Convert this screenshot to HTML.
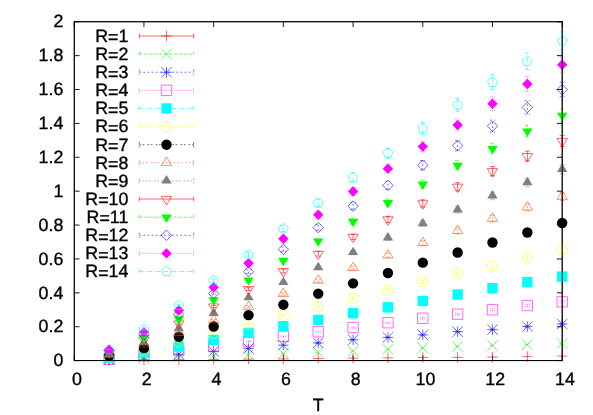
<!DOCTYPE html>
<html><head><meta charset="utf-8"><title>plot</title>
<style>html,body{margin:0;padding:0;background:#fff}svg{display:block;will-change:transform}</style></head>
<body>
<svg width="593" height="415" viewBox="0 0 593 415">
<rect width="593" height="415" fill="#fff"/>
<path d="M74.25 360.6h5.3M562.2 360.6h-5.3M74.25 326.72h5.3M562.2 326.72h-5.3M74.25 292.83h5.3M562.2 292.83h-5.3M74.25 258.94h5.3M562.2 258.94h-5.3M74.25 225.06h5.3M562.2 225.06h-5.3M74.25 191.18h5.3M562.2 191.18h-5.3M74.25 157.29h5.3M562.2 157.29h-5.3M74.25 123.4h5.3M562.2 123.4h-5.3M74.25 89.52h5.3M562.2 89.52h-5.3M74.25 55.63h5.3M562.2 55.63h-5.3M74.25 21.75h5.3M562.2 21.75h-5.3M74.25 360.6v-5.3M74.25 21.75v5.3M143.96 360.6v-5.3M143.96 21.75v5.3M213.66 360.6v-5.3M213.66 21.75v5.3M283.37 360.6v-5.3M283.37 21.75v5.3M353.08 360.6v-5.3M353.08 21.75v5.3M422.79 360.6v-5.3M422.79 21.75v5.3M492.49 360.6v-5.3M492.49 21.75v5.3M562.2 360.6v-5.3M562.2 21.75v5.3" fill="none" stroke="#000" stroke-width="0.9"/>
<rect x="74.25" y="21.75" width="487.95" height="338.85" fill="none" stroke="#000" stroke-width="0.9"/>
<g font-family="Liberation Sans, sans-serif" font-size="17.8" fill="#000" stroke="#000" stroke-width="0.35" text-rendering="geometricPrecision">
<text x="63.3" y="366.3" text-anchor="end">0</text>
<text x="63.3" y="332.42" text-anchor="end">0.2</text>
<text x="63.3" y="298.53" text-anchor="end">0.4</text>
<text x="63.3" y="264.64" text-anchor="end">0.6</text>
<text x="63.3" y="230.76" text-anchor="end">0.8</text>
<text x="63.3" y="196.88" text-anchor="end">1</text>
<text x="63.3" y="162.99" text-anchor="end">1.2</text>
<text x="63.3" y="129.1" text-anchor="end">1.4</text>
<text x="63.3" y="95.22" text-anchor="end">1.6</text>
<text x="63.3" y="61.33" text-anchor="end">1.8</text>
<text x="63.3" y="27.45" text-anchor="end">2</text>
<text x="76.95" y="384.5" text-anchor="middle">0</text>
<text x="146.66" y="384.5" text-anchor="middle">2</text>
<text x="216.36" y="384.5" text-anchor="middle">4</text>
<text x="286.07" y="384.5" text-anchor="middle">6</text>
<text x="355.78" y="384.5" text-anchor="middle">8</text>
<text x="425.49" y="384.5" text-anchor="middle">10</text>
<text x="495.19" y="384.5" text-anchor="middle">12</text>
<text x="564.9" y="384.5" text-anchor="middle">14</text>
<text x="318.3" y="411.4" text-anchor="middle">T</text>
<text x="128.3" y="41.9" text-anchor="end">R<tspan dy="1.4">=</tspan><tspan dy="-1.4">1</tspan></text>
<text x="128.3" y="60.01" text-anchor="end">R<tspan dy="1.4">=</tspan><tspan dy="-1.4">2</tspan></text>
<text x="128.3" y="78.13" text-anchor="end">R<tspan dy="1.4">=</tspan><tspan dy="-1.4">3</tspan></text>
<text x="128.3" y="96.25" text-anchor="end">R<tspan dy="1.4">=</tspan><tspan dy="-1.4">4</tspan></text>
<text x="128.3" y="114.36" text-anchor="end">R<tspan dy="1.4">=</tspan><tspan dy="-1.4">5</tspan></text>
<text x="128.3" y="132.47" text-anchor="end">R<tspan dy="1.4">=</tspan><tspan dy="-1.4">6</tspan></text>
<text x="128.3" y="150.59" text-anchor="end">R<tspan dy="1.4">=</tspan><tspan dy="-1.4">7</tspan></text>
<text x="128.3" y="168.71" text-anchor="end">R<tspan dy="1.4">=</tspan><tspan dy="-1.4">8</tspan></text>
<text x="128.3" y="186.82" text-anchor="end">R<tspan dy="1.4">=</tspan><tspan dy="-1.4">9</tspan></text>
<text x="128.3" y="204.94" text-anchor="end">R<tspan dy="1.4">=</tspan><tspan dy="-1.4">10</tspan></text>
<text x="128.3" y="223.05" text-anchor="end">R<tspan dy="1.4">=</tspan><tspan dy="-1.4">11</tspan></text>
<text x="128.3" y="241.16" text-anchor="end">R<tspan dy="1.4">=</tspan><tspan dy="-1.4">12</tspan></text>
<text x="128.3" y="259.28" text-anchor="end">R<tspan dy="1.4">=</tspan><tspan dy="-1.4">13</tspan></text>
<text x="128.3" y="277.39" text-anchor="end">R<tspan dy="1.4">=</tspan><tspan dy="-1.4">14</tspan></text>
</g>
<path d="M139.3 36H193.7M139.3 33.5V38.5M193.7 33.5V38.5" fill="none" stroke="#ff0000" stroke-width="0.6"/>
<path d="M166.5 30.8V41.2M161.3 36H171.7" fill="none" stroke="#ff0000" stroke-width="0.6"/>
<path d="" fill="none" stroke="#ff0000" stroke-width="0.6"/>
<path d="M109.1 355.23V365.63M103.9 360.43H114.3" fill="none" stroke="#ff0000" stroke-width="0.6"/>
<path d="M143.96 354.77V365.17M138.76 359.97H149.16" fill="none" stroke="#ff0000" stroke-width="0.6"/>
<path d="M178.81 354.47V364.87M173.61 359.67H184.01" fill="none" stroke="#ff0000" stroke-width="0.6"/>
<path d="M213.66 354.21V364.61M208.46 359.41H218.86" fill="none" stroke="#ff0000" stroke-width="0.6"/>
<path d="M248.52 353.88V364.28M243.32 359.08H253.72" fill="none" stroke="#ff0000" stroke-width="0.6"/>
<path d="M283.37 353.71V364.11M278.17 358.91H288.57" fill="none" stroke="#ff0000" stroke-width="0.6"/>
<path d="M318.23 353.37V363.77M313.03 358.57H323.43" fill="none" stroke="#ff0000" stroke-width="0.6"/>
<path d="M353.08 352.91V363.31M347.88 358.11H358.28" fill="none" stroke="#ff0000" stroke-width="0.6"/>
<path d="M387.93 352.69V363.09M382.73 357.89H393.13" fill="none" stroke="#ff0000" stroke-width="0.6"/>
<path d="M422.79 352.18V362.58M417.59 357.38H427.99" fill="none" stroke="#ff0000" stroke-width="0.6"/>
<path d="M457.64 352.18V362.58M452.44 357.38H462.84" fill="none" stroke="#ff0000" stroke-width="0.6"/>
<path d="M492.49 351.91V362.31M487.29 357.11H497.69" fill="none" stroke="#ff0000" stroke-width="0.6"/>
<path d="M527.35 351.4V361.8M522.15 356.6H532.55" fill="none" stroke="#ff0000" stroke-width="0.6"/>
<path d="M562.2 350.91V361.31M557 356.11H567.4" fill="none" stroke="#ff0000" stroke-width="0.6"/>
<path d="M139.3 54.11H193.7M139.3 51.61V56.61M193.7 51.61V56.61" fill="none" stroke="#00ff00" stroke-width="0.6" stroke-dasharray="3.29 1.65"/>
<path d="M161.3 48.91L171.7 59.31M161.3 59.31L171.7 48.91" fill="none" stroke="#00ff00" stroke-width="0.6"/>
<path d="M106.6 360.09H111.6M141.46 358.57H146.46M176.31 357.21H181.31M211.16 356.03H216.16M246.02 354.84H251.02M280.87 353.48H285.87M315.73 352.3H320.73M350.58 351.11H355.58M385.43 349.25H390.43M420.29 347.81H425.29M455.14 346.54H460.14M489.99 345.52H494.99M524.85 344.67H529.85M562.2 343.81V343.17M559.7 343.81H564.7M559.7 343.17H564.7" fill="none" stroke="#00ff00" stroke-width="0.6" stroke-dasharray="3.29 1.65"/>
<path d="M103.9 354.89L114.3 365.29M103.9 365.29L114.3 354.89" fill="none" stroke="#00ff00" stroke-width="0.6"/>
<path d="M138.76 353.37L149.16 363.77M138.76 363.77L149.16 353.37" fill="none" stroke="#00ff00" stroke-width="0.6"/>
<path d="M173.61 352.01L184.01 362.41M173.61 362.41L184.01 352.01" fill="none" stroke="#00ff00" stroke-width="0.6"/>
<path d="M208.46 350.83L218.86 361.23M208.46 361.23L218.86 350.83" fill="none" stroke="#00ff00" stroke-width="0.6"/>
<path d="M243.32 349.64L253.72 360.04M243.32 360.04L253.72 349.64" fill="none" stroke="#00ff00" stroke-width="0.6"/>
<path d="M278.17 348.28L288.57 358.68M278.17 358.68L288.57 348.28" fill="none" stroke="#00ff00" stroke-width="0.6"/>
<path d="M313.03 347.1L323.43 357.5M313.03 357.5L323.43 347.1" fill="none" stroke="#00ff00" stroke-width="0.6"/>
<path d="M347.88 345.91L358.28 356.31M347.88 356.31L358.28 345.91" fill="none" stroke="#00ff00" stroke-width="0.6"/>
<path d="M382.73 344.05L393.13 354.45M382.73 354.45L393.13 344.05" fill="none" stroke="#00ff00" stroke-width="0.6"/>
<path d="M417.59 342.61L427.99 353.01M417.59 353.01L427.99 342.61" fill="none" stroke="#00ff00" stroke-width="0.6"/>
<path d="M452.44 341.34L462.84 351.74M452.44 351.74L462.84 341.34" fill="none" stroke="#00ff00" stroke-width="0.6"/>
<path d="M487.29 340.32L497.69 350.72M487.29 350.72L497.69 340.32" fill="none" stroke="#00ff00" stroke-width="0.6"/>
<path d="M522.15 339.47L532.55 349.87M522.15 349.87L532.55 339.47" fill="none" stroke="#00ff00" stroke-width="0.6"/>
<path d="M557 338.29L567.4 348.69M557 348.69L567.4 338.29" fill="none" stroke="#00ff00" stroke-width="0.6"/>
<path d="M139.3 72.23H193.7M139.3 69.73V74.73M193.7 69.73V74.73" fill="none" stroke="#0000ff" stroke-width="0.6" stroke-dasharray="1.65 2.47"/>
<path d="M166.5 67.03V77.43M161.3 72.23H171.7M161.3 67.03L171.7 77.43M161.3 77.43L171.7 67.03" fill="none" stroke="#0000ff" stroke-width="0.6"/>
<path d="M106.6 359.75H111.6M141.46 356.87H146.46M176.31 354.25H181.31M211.16 351.45H216.16M246.02 348.5H251.02M280.87 345.18H285.87M318.23 343.31V342.65M315.73 343.31H320.73M315.73 342.65H320.73M353.08 340.15V339.37M350.58 340.15H355.58M350.58 339.37H355.58M387.93 337.82V336.95M385.43 337.82H390.43M385.43 336.95H390.43M422.79 335.33V334.36M420.29 335.33H425.29M420.29 334.36H425.29M457.64 332.18V331.08M455.14 332.18H460.14M455.14 331.08H460.14M492.49 330.18V329.01M489.99 330.18H494.99M489.99 329.01H494.99M527.35 327.2V325.89M524.85 327.2H529.85M524.85 325.89H529.85M562.2 324.71V323.3M559.7 324.71H564.7M559.7 323.3H564.7" fill="none" stroke="#0000ff" stroke-width="0.6" stroke-dasharray="1.65 2.47"/>
<path d="M109.1 354.55V364.95M103.9 359.75H114.3M103.9 354.55L114.3 364.95M103.9 364.95L114.3 354.55" fill="none" stroke="#0000ff" stroke-width="0.6"/>
<path d="M143.96 351.67V362.07M138.76 356.87H149.16M138.76 351.67L149.16 362.07M138.76 362.07L149.16 351.67" fill="none" stroke="#0000ff" stroke-width="0.6"/>
<path d="M178.81 349.05V359.45M173.61 354.25H184.01M173.61 349.05L184.01 359.45M173.61 359.45L184.01 349.05" fill="none" stroke="#0000ff" stroke-width="0.6"/>
<path d="M213.66 346.25V356.65M208.46 351.45H218.86M208.46 346.25L218.86 356.65M208.46 356.65L218.86 346.25" fill="none" stroke="#0000ff" stroke-width="0.6"/>
<path d="M248.52 343.3V353.7M243.32 348.5H253.72M243.32 343.3L253.72 353.7M243.32 353.7L253.72 343.3" fill="none" stroke="#0000ff" stroke-width="0.6"/>
<path d="M283.37 339.98V350.38M278.17 345.18H288.57M278.17 339.98L288.57 350.38M278.17 350.38L288.57 339.98" fill="none" stroke="#0000ff" stroke-width="0.6"/>
<path d="M318.23 337.78V348.18M313.03 342.98H323.43M313.03 337.78L323.43 348.18M313.03 348.18L323.43 337.78" fill="none" stroke="#0000ff" stroke-width="0.6"/>
<path d="M353.08 334.56V344.96M347.88 339.76H358.28M347.88 334.56L358.28 344.96M347.88 344.96L358.28 334.56" fill="none" stroke="#0000ff" stroke-width="0.6"/>
<path d="M387.93 332.19V342.59M382.73 337.39H393.13M382.73 332.19L393.13 342.59M382.73 342.59L393.13 332.19" fill="none" stroke="#0000ff" stroke-width="0.6"/>
<path d="M422.79 329.65V340.05M417.59 334.85H427.99M417.59 329.65L427.99 340.05M417.59 340.05L427.99 329.65" fill="none" stroke="#0000ff" stroke-width="0.6"/>
<path d="M457.64 326.43V336.83M452.44 331.63H462.84M452.44 326.43L462.84 336.83M452.44 336.83L462.84 326.43" fill="none" stroke="#0000ff" stroke-width="0.6"/>
<path d="M492.49 324.4V334.8M487.29 329.6H497.69M487.29 324.4L497.69 334.8M487.29 334.8L497.69 324.4" fill="none" stroke="#0000ff" stroke-width="0.6"/>
<path d="M527.35 321.35V331.75M522.15 326.55H532.55M522.15 321.35L532.55 331.75M522.15 331.75L532.55 321.35" fill="none" stroke="#0000ff" stroke-width="0.6"/>
<path d="M562.2 318.8V329.2M557 324H567.4M557 318.8L567.4 329.2M557 329.2L567.4 318.8" fill="none" stroke="#0000ff" stroke-width="0.6"/>
<path d="M139.3 90.34H193.7M139.3 87.84V92.84M193.7 87.84V92.84" fill="none" stroke="#ff00ff" stroke-width="0.6" stroke-dasharray="0.82 1.24"/>
<path d="M161.3 85.14L171.7 85.14L171.7 95.55L161.3 95.55Z" fill="none" stroke="#ff00ff" stroke-width="0.6"/><circle cx="166.5" cy="90.34" r="0.22" fill="#ff00ff"/>
<path d="M106.6 359.24H111.6M141.46 354.84H146.46M176.31 350.5H181.31M211.16 345.86H216.16M248.52 341.98V341.27M246.02 341.98H251.02M246.02 341.27H251.02M283.37 336.83V335.92M280.87 336.83H285.87M280.87 335.92H285.87M318.23 332.18V331.08M315.73 332.18H320.73M315.73 331.08H320.73M353.08 328.19V326.93M350.58 328.19H355.58M350.58 326.93H355.58M387.93 323.45V321.99M385.43 323.45H390.43M385.43 321.99H390.43M422.79 319.06V317.42M420.29 319.06H425.29M420.29 317.42H425.29M457.64 315.08V313.27M455.14 315.08H460.14M455.14 313.27H460.14M492.49 310.77V308.77M489.99 310.77H494.99M489.99 308.77H494.99M527.35 306.63V304.45M524.85 306.63H529.85M524.85 304.45H529.85M562.2 302.98V300.64M559.7 302.98H564.7M559.7 300.64H564.7" fill="none" stroke="#ff00ff" stroke-width="0.6" stroke-dasharray="0.82 1.24"/>
<path d="M103.9 354.04L114.3 354.04L114.3 364.44L103.9 364.44Z" fill="none" stroke="#ff00ff" stroke-width="0.6"/><circle cx="109.1" cy="359.24" r="0.22" fill="#ff00ff"/>
<path d="M138.76 349.64L149.16 349.64L149.16 360.04L138.76 360.04Z" fill="none" stroke="#ff00ff" stroke-width="0.6"/><circle cx="143.96" cy="354.84" r="0.22" fill="#ff00ff"/>
<path d="M173.61 345.3L184.01 345.3L184.01 355.7L173.61 355.7Z" fill="none" stroke="#ff00ff" stroke-width="0.6"/><circle cx="178.81" cy="350.5" r="0.22" fill="#ff00ff"/>
<path d="M208.46 340.66L218.86 340.66L218.86 351.06L208.46 351.06Z" fill="none" stroke="#ff00ff" stroke-width="0.6"/><circle cx="213.66" cy="345.86" r="0.22" fill="#ff00ff"/>
<path d="M243.32 336.42L253.72 336.42L253.72 346.82L243.32 346.82Z" fill="none" stroke="#ff00ff" stroke-width="0.6"/><circle cx="248.52" cy="341.62" r="0.22" fill="#ff00ff"/>
<path d="M278.17 331.17L288.57 331.17L288.57 341.57L278.17 341.57Z" fill="none" stroke="#ff00ff" stroke-width="0.6"/><circle cx="283.37" cy="336.37" r="0.22" fill="#ff00ff"/>
<path d="M313.03 326.43L323.43 326.43L323.43 336.83L313.03 336.83Z" fill="none" stroke="#ff00ff" stroke-width="0.6"/><circle cx="318.23" cy="331.63" r="0.22" fill="#ff00ff"/>
<path d="M347.88 322.36L358.28 322.36L358.28 332.76L347.88 332.76Z" fill="none" stroke="#ff00ff" stroke-width="0.6"/><circle cx="353.08" cy="327.56" r="0.22" fill="#ff00ff"/>
<path d="M382.73 317.52L393.13 317.52L393.13 327.92L382.73 327.92Z" fill="none" stroke="#ff00ff" stroke-width="0.6"/><circle cx="387.93" cy="322.72" r="0.22" fill="#ff00ff"/>
<path d="M417.59 313.04L427.99 313.04L427.99 323.44L417.59 323.44Z" fill="none" stroke="#ff00ff" stroke-width="0.6"/><circle cx="422.79" cy="318.24" r="0.22" fill="#ff00ff"/>
<path d="M452.44 308.98L462.84 308.98L462.84 319.38L452.44 319.38Z" fill="none" stroke="#ff00ff" stroke-width="0.6"/><circle cx="457.64" cy="314.18" r="0.22" fill="#ff00ff"/>
<path d="M487.29 304.57L497.69 304.57L497.69 314.97L487.29 314.97Z" fill="none" stroke="#ff00ff" stroke-width="0.6"/><circle cx="492.49" cy="309.77" r="0.22" fill="#ff00ff"/>
<path d="M522.15 300.34L532.55 300.34L532.55 310.74L522.15 310.74Z" fill="none" stroke="#ff00ff" stroke-width="0.6"/><circle cx="527.35" cy="305.54" r="0.22" fill="#ff00ff"/>
<path d="M557 296.61L567.4 296.61L567.4 307.01L557 307.01Z" fill="none" stroke="#ff00ff" stroke-width="0.6"/><circle cx="562.2" cy="301.81" r="0.22" fill="#ff00ff"/>
<path d="M139.3 108.46H193.7M139.3 105.96V110.96M193.7 105.96V110.96" fill="none" stroke="#00ffff" stroke-width="0.6" stroke-dasharray="4.12 1.65 0.82 1.65"/>
<path d="M161.3 103.26L171.7 103.26L171.7 113.66L161.3 113.66Z" fill="#00ffff" stroke="none"/>
<path d="M106.6 357.79H111.6M141.46 352.72H146.46M176.31 346.54H181.31M213.66 340.32V339.54M211.16 340.32H216.16M211.16 339.54H216.16M248.52 333.51V332.46M246.02 333.51H251.02M246.02 332.46H251.02M283.37 326.86V325.55M280.87 326.86H285.87M280.87 325.55H285.87M318.23 320.72V319.15M315.73 320.72H320.73M315.73 319.15H320.73M353.08 314.09V312.23M350.58 314.09H355.58M350.58 312.23H355.58M387.93 308.45V306.35M385.43 308.45H390.43M385.43 306.35H390.43M422.79 302.15V299.77M420.29 302.15H425.29M420.29 299.77H425.29M457.64 295.86V293.19M455.14 295.86H460.14M455.14 293.19H460.14M492.49 289.73V286.78M489.99 289.73H494.99M489.99 286.78H494.99M527.35 283.77V280.54M524.85 283.77H529.85M524.85 280.54H529.85M562.2 278.31V274.82M559.7 278.31H564.7M559.7 274.82H564.7" fill="none" stroke="#00ffff" stroke-width="0.6" stroke-dasharray="4.12 1.65 0.82 1.65"/>
<path d="M103.9 352.59L114.3 352.59L114.3 362.99L103.9 362.99Z" fill="#00ffff" stroke="none"/>
<path d="M138.76 347.52L149.16 347.52L149.16 357.92L138.76 357.92Z" fill="#00ffff" stroke="none"/>
<path d="M173.61 341.34L184.01 341.34L184.01 351.74L173.61 351.74Z" fill="#00ffff" stroke="none"/>
<path d="M208.46 334.73L218.86 334.73L218.86 345.13L208.46 345.13Z" fill="#00ffff" stroke="none"/>
<path d="M243.32 327.78L253.72 327.78L253.72 338.18L243.32 338.18Z" fill="#00ffff" stroke="none"/>
<path d="M278.17 321.01L288.57 321.01L288.57 331.41L278.17 331.41Z" fill="#00ffff" stroke="none"/>
<path d="M313.03 314.74L323.43 314.74L323.43 325.14L313.03 325.14Z" fill="#00ffff" stroke="none"/>
<path d="M347.88 307.96L358.28 307.96L358.28 318.36L347.88 318.36Z" fill="#00ffff" stroke="none"/>
<path d="M382.73 302.2L393.13 302.2L393.13 312.6L382.73 312.6Z" fill="#00ffff" stroke="none"/>
<path d="M417.59 295.76L427.99 295.76L427.99 306.16L417.59 306.16Z" fill="#00ffff" stroke="none"/>
<path d="M452.44 289.32L462.84 289.32L462.84 299.72L452.44 299.72Z" fill="#00ffff" stroke="none"/>
<path d="M487.29 283.06L497.69 283.06L497.69 293.46L487.29 293.46Z" fill="#00ffff" stroke="none"/>
<path d="M522.15 276.96L532.55 276.96L532.55 287.36L522.15 287.36Z" fill="#00ffff" stroke="none"/>
<path d="M557 271.37L567.4 271.37L567.4 281.77L557 281.77Z" fill="#00ffff" stroke="none"/>
<path d="M139.3 126.57H193.7M139.3 124.07V129.07M193.7 124.07V129.07" fill="none" stroke="#ffff00" stroke-width="0.6" stroke-dasharray="3.29 2.47 0.82 2.47"/>
<circle cx="166.5" cy="126.57" r="5.2" fill="none" stroke="#ffff00" stroke-width="0.6"/><circle cx="166.5" cy="126.57" r="0.22" fill="#ffff00"/>
<path d="M106.6 356.87H111.6M141.46 350.1H146.46M178.81 342.31V341.62M176.31 342.31H181.31M176.31 341.62H181.31M213.66 333.84V332.81M211.16 333.84H216.16M211.16 332.81H216.16M248.52 324.62V323.22M246.02 324.62H251.02M246.02 323.22H251.02M283.37 316.08V314.31M280.87 316.08H285.87M280.87 314.31H285.87M318.23 307.95V305.83M315.73 307.95H320.73M315.73 305.83H320.73M353.08 299.33V296.83M350.58 299.33H355.58M350.58 296.83H355.58M387.93 291.55V288.69M385.43 291.55H390.43M385.43 288.69H390.43M422.79 283.6V280.37M420.29 283.6H425.29M420.29 280.37H425.29M457.64 275.66V272.05M455.14 275.66H460.14M455.14 272.05H460.14M492.49 267.89V263.9M489.99 267.89H494.99M489.99 263.9H494.99M527.35 260.12V255.74M524.85 260.12H529.85M524.85 255.74H529.85M562.2 252.35V247.58M559.7 252.35H564.7M559.7 247.58H564.7" fill="none" stroke="#ffff00" stroke-width="0.6" stroke-dasharray="3.29 2.47 0.82 2.47"/>
<circle cx="109.1" cy="356.87" r="5.2" fill="none" stroke="#ffff00" stroke-width="0.6"/><circle cx="109.1" cy="356.87" r="0.22" fill="#ffff00"/>
<circle cx="143.96" cy="350.1" r="5.2" fill="none" stroke="#ffff00" stroke-width="0.6"/><circle cx="143.96" cy="350.1" r="0.22" fill="#ffff00"/>
<circle cx="178.81" cy="341.96" r="5.2" fill="none" stroke="#ffff00" stroke-width="0.6"/><circle cx="178.81" cy="341.96" r="0.22" fill="#ffff00"/>
<circle cx="213.66" cy="333.32" r="5.2" fill="none" stroke="#ffff00" stroke-width="0.6"/><circle cx="213.66" cy="333.32" r="0.22" fill="#ffff00"/>
<circle cx="248.52" cy="323.92" r="5.2" fill="none" stroke="#ffff00" stroke-width="0.6"/><circle cx="248.52" cy="323.92" r="0.22" fill="#ffff00"/>
<circle cx="283.37" cy="315.19" r="5.2" fill="none" stroke="#ffff00" stroke-width="0.6"/><circle cx="283.37" cy="315.19" r="0.22" fill="#ffff00"/>
<circle cx="318.23" cy="306.89" r="5.2" fill="none" stroke="#ffff00" stroke-width="0.6"/><circle cx="318.23" cy="306.89" r="0.22" fill="#ffff00"/>
<circle cx="353.08" cy="298.08" r="5.2" fill="none" stroke="#ffff00" stroke-width="0.6"/><circle cx="353.08" cy="298.08" r="0.22" fill="#ffff00"/>
<circle cx="387.93" cy="290.12" r="5.2" fill="none" stroke="#ffff00" stroke-width="0.6"/><circle cx="387.93" cy="290.12" r="0.22" fill="#ffff00"/>
<circle cx="422.79" cy="281.99" r="5.2" fill="none" stroke="#ffff00" stroke-width="0.6"/><circle cx="422.79" cy="281.99" r="0.22" fill="#ffff00"/>
<circle cx="457.64" cy="273.85" r="5.2" fill="none" stroke="#ffff00" stroke-width="0.6"/><circle cx="457.64" cy="273.85" r="0.22" fill="#ffff00"/>
<circle cx="492.49" cy="265.89" r="5.2" fill="none" stroke="#ffff00" stroke-width="0.6"/><circle cx="492.49" cy="265.89" r="0.22" fill="#ffff00"/>
<circle cx="527.35" cy="257.93" r="5.2" fill="none" stroke="#ffff00" stroke-width="0.6"/><circle cx="527.35" cy="257.93" r="0.22" fill="#ffff00"/>
<circle cx="562.2" cy="249.97" r="5.2" fill="none" stroke="#ffff00" stroke-width="0.6"/><circle cx="562.2" cy="249.97" r="0.22" fill="#ffff00"/>
<path d="M139.3 144.69H193.7M139.3 142.19V147.19M193.7 142.19V147.19" fill="none" stroke="#000000" stroke-width="0.6" stroke-dasharray="1.65 1.65 1.65 3.29"/>
<circle cx="166.5" cy="144.69" r="5.2" fill="#000000" stroke="none"/>
<path d="M106.6 355.86H111.6M141.46 348.01H146.46M178.81 337.16V336.26M176.31 337.16H181.31M176.31 336.26H181.31M213.66 327.2V325.89M211.16 327.2H216.16M211.16 325.89H216.16M248.52 316.01V314.24M246.02 316.01H251.02M246.02 314.24H251.02M283.37 305.8V303.58M280.87 305.8H285.87M280.87 303.58H285.87M318.23 295.03V292.33M315.73 295.03H320.73M315.73 292.33H320.73M353.08 284.93V281.76M350.58 284.93H355.58M350.58 281.76H355.58M387.93 274.83V271.18M385.43 274.83H390.43M385.43 271.18H390.43M422.79 264.75V260.6M420.29 264.75H425.29M420.29 260.6H425.29M457.64 254.83V250.18M455.14 254.83H460.14M455.14 250.18H460.14M492.49 245.09V239.93M489.99 245.09H494.99M489.99 239.93H494.99M527.35 235.35V229.68M524.85 235.35H529.85M524.85 229.68H529.85M562.2 226.12V219.94M559.7 226.12H564.7M559.7 219.94H564.7" fill="none" stroke="#000000" stroke-width="0.6" stroke-dasharray="1.65 1.65 1.65 3.29"/>
<circle cx="109.1" cy="355.86" r="5.2" fill="#000000" stroke="none"/>
<circle cx="143.96" cy="348.01" r="5.2" fill="#000000" stroke="none"/>
<circle cx="178.81" cy="336.71" r="5.2" fill="#000000" stroke="none"/>
<circle cx="213.66" cy="326.55" r="5.2" fill="#000000" stroke="none"/>
<circle cx="248.52" cy="315.13" r="5.2" fill="#000000" stroke="none"/>
<circle cx="283.37" cy="304.69" r="5.2" fill="#000000" stroke="none"/>
<circle cx="318.23" cy="293.68" r="5.2" fill="#000000" stroke="none"/>
<circle cx="353.08" cy="283.34" r="5.2" fill="#000000" stroke="none"/>
<circle cx="387.93" cy="273.01" r="5.2" fill="#000000" stroke="none"/>
<circle cx="422.79" cy="262.67" r="5.2" fill="#000000" stroke="none"/>
<circle cx="457.64" cy="252.51" r="5.2" fill="#000000" stroke="none"/>
<circle cx="492.49" cy="242.51" r="5.2" fill="#000000" stroke="none"/>
<circle cx="527.35" cy="232.51" r="5.2" fill="#000000" stroke="none"/>
<circle cx="562.2" cy="223.03" r="5.2" fill="#000000" stroke="none"/>
<path d="M139.3 162.81H193.7M139.3 160.31V165.31M193.7 160.31V165.31" fill="none" stroke="#ff4d00" stroke-width="0.6" stroke-dasharray="1.65 1.65 1.65 1.65 1.65 3.29"/>
<path d="M166.5 156.98L161.3 165.41L171.7 165.41Z" fill="none" stroke="#ff4d00" stroke-width="0.6"/><circle cx="166.5" cy="162.81" r="0.22" fill="#ff4d00"/>
<path d="M106.6 354.91H111.6M143.96 344.7V344.1M141.46 344.7H146.46M141.46 344.1H146.46M178.81 333.51V332.46M176.31 333.51H181.31M176.31 332.46H181.31M213.66 321.11V319.55M211.16 321.11H216.16M211.16 319.55H216.16M248.52 307.79V305.66M246.02 307.79H251.02M246.02 305.66H251.02M283.37 295.19V292.5M280.87 295.19H285.87M280.87 292.5H285.87M318.23 282.28V278.98M315.73 282.28H320.73M315.73 278.98H320.73M353.08 269.87V265.98M350.58 269.87H355.58M350.58 265.98H355.58M387.93 257.64V253.13M385.43 257.64H390.43M385.43 253.13H390.43M422.79 245.58V240.45M420.29 245.58H425.29M420.29 240.45H425.29M457.64 233.87V228.11M455.14 233.87H460.14M455.14 228.11H460.14M492.49 221.83V215.41M489.99 221.83H494.99M489.99 215.41H494.99M527.35 210.96V203.92M524.85 210.96H529.85M524.85 203.92H529.85M562.2 200.59V192.95M559.7 200.59H564.7M559.7 192.95H564.7" fill="none" stroke="#ff4d00" stroke-width="0.6" stroke-dasharray="1.65 1.65 1.65 1.65 1.65 3.29"/>
<path d="M109.1 349.08L103.9 357.51L114.3 357.51Z" fill="none" stroke="#ff4d00" stroke-width="0.6"/><circle cx="109.1" cy="354.91" r="0.22" fill="#ff4d00"/>
<path d="M143.96 338.58L138.76 347L149.16 347Z" fill="none" stroke="#ff4d00" stroke-width="0.6"/><circle cx="143.96" cy="344.4" r="0.22" fill="#ff4d00"/>
<path d="M178.81 327.16L173.61 335.58L184.01 335.58Z" fill="none" stroke="#ff4d00" stroke-width="0.6"/><circle cx="178.81" cy="332.98" r="0.22" fill="#ff4d00"/>
<path d="M213.66 314.5L208.46 322.93L218.86 322.93Z" fill="none" stroke="#ff4d00" stroke-width="0.6"/><circle cx="213.66" cy="320.33" r="0.22" fill="#ff4d00"/>
<path d="M248.52 300.9L243.32 309.32L253.72 309.32Z" fill="none" stroke="#ff4d00" stroke-width="0.6"/><circle cx="248.52" cy="306.72" r="0.22" fill="#ff4d00"/>
<path d="M283.37 288.02L278.17 296.45L288.57 296.45Z" fill="none" stroke="#ff4d00" stroke-width="0.6"/><circle cx="283.37" cy="293.85" r="0.22" fill="#ff4d00"/>
<path d="M318.23 274.81L313.03 283.23L323.43 283.23Z" fill="none" stroke="#ff4d00" stroke-width="0.6"/><circle cx="318.23" cy="280.63" r="0.22" fill="#ff4d00"/>
<path d="M353.08 262.1L347.88 270.52L358.28 270.52Z" fill="none" stroke="#ff4d00" stroke-width="0.6"/><circle cx="353.08" cy="267.92" r="0.22" fill="#ff4d00"/>
<path d="M387.93 249.56L382.73 257.99L393.13 257.99Z" fill="none" stroke="#ff4d00" stroke-width="0.6"/><circle cx="387.93" cy="255.39" r="0.22" fill="#ff4d00"/>
<path d="M422.79 237.2L417.59 245.62L427.99 245.62Z" fill="none" stroke="#ff4d00" stroke-width="0.6"/><circle cx="422.79" cy="243.02" r="0.22" fill="#ff4d00"/>
<path d="M457.64 225.17L452.44 233.59L462.84 233.59Z" fill="none" stroke="#ff4d00" stroke-width="0.6"/><circle cx="457.64" cy="230.99" r="0.22" fill="#ff4d00"/>
<path d="M492.49 212.8L487.29 221.22L497.69 221.22Z" fill="none" stroke="#ff4d00" stroke-width="0.6"/><circle cx="492.49" cy="218.62" r="0.22" fill="#ff4d00"/>
<path d="M527.35 201.62L522.15 210.04L532.55 210.04Z" fill="none" stroke="#ff4d00" stroke-width="0.6"/><circle cx="527.35" cy="207.44" r="0.22" fill="#ff4d00"/>
<path d="M562.2 190.94L557 199.37L567.4 199.37Z" fill="none" stroke="#ff4d00" stroke-width="0.6"/><circle cx="562.2" cy="196.77" r="0.22" fill="#ff4d00"/>
<path d="M139.3 180.92H193.7M139.3 178.42V183.42M193.7 178.42V183.42" fill="none" stroke="#808080" stroke-width="0.6" stroke-dasharray="1.65 1.65 1.65 1.65 1.65 1.65 1.65 3.29"/>
<path d="M166.5 175.1L161.3 183.52L171.7 183.52Z" fill="#808080" stroke="none"/>
<path d="M106.6 354.4H111.6M143.96 342.97V342.31M141.46 342.97H146.46M141.46 342.31H146.46M178.81 329.19V327.97M176.31 329.19H181.31M176.31 327.97H181.31M213.66 314.34V312.49M211.16 314.34H216.16M211.16 312.49H216.16M248.52 299V296.48M246.02 299H251.02M246.02 296.48H251.02M283.37 284.1V280.89M280.87 284.1H285.87M280.87 280.89H285.87M318.23 269.54V265.63M315.73 269.54H320.73M315.73 265.63H320.73M353.08 254.83V250.18M350.58 254.83H355.58M350.58 250.18H355.58M387.93 240.63V235.24M385.43 240.63H390.43M385.43 235.24H390.43M422.79 226.61V220.46M420.29 226.61H425.29M420.29 220.46H425.29M457.64 213.26V206.36M455.14 213.26H460.14M455.14 206.36H460.14M492.49 199.76V192.07M489.99 199.76H494.99M489.99 192.07H494.99M527.35 186.77V178.3M524.85 186.77H529.85M524.85 178.3H529.85M562.2 173.95V164.69M559.7 173.95H564.7M559.7 164.69H564.7" fill="none" stroke="#808080" stroke-width="0.6" stroke-dasharray="1.65 1.65 1.65 1.65 1.65 1.65 1.65 3.29"/>
<path d="M109.1 348.58L103.9 357L114.3 357Z" fill="#808080" stroke="none"/>
<path d="M143.96 336.82L138.76 345.24L149.16 345.24Z" fill="#808080" stroke="none"/>
<path d="M178.81 322.75L173.61 331.18L184.01 331.18Z" fill="#808080" stroke="none"/>
<path d="M213.66 307.59L208.46 316.02L218.86 316.02Z" fill="#808080" stroke="none"/>
<path d="M248.52 291.92L243.32 300.34L253.72 300.34Z" fill="#808080" stroke="none"/>
<path d="M283.37 276.67L278.17 285.1L288.57 285.1Z" fill="#808080" stroke="none"/>
<path d="M318.23 261.76L313.03 270.19L323.43 270.19Z" fill="#808080" stroke="none"/>
<path d="M353.08 246.68L347.88 255.11L358.28 255.11Z" fill="#808080" stroke="none"/>
<path d="M387.93 232.11L382.73 240.54L393.13 240.54Z" fill="#808080" stroke="none"/>
<path d="M422.79 217.71L417.59 226.14L427.99 226.14Z" fill="#808080" stroke="none"/>
<path d="M457.64 203.99L452.44 212.41L462.84 212.41Z" fill="#808080" stroke="none"/>
<path d="M492.49 190.09L487.29 198.52L497.69 198.52Z" fill="#808080" stroke="none"/>
<path d="M527.35 176.71L522.15 185.13L532.55 185.13Z" fill="#808080" stroke="none"/>
<path d="M562.2 163.5L557 171.92L567.4 171.92Z" fill="#808080" stroke="none"/>
<path d="M139.3 199.03H193.7M139.3 196.53V201.53M193.7 196.53V201.53" fill="none" stroke="#ff0000" stroke-width="0.6"/>
<path d="M166.5 204.86L161.3 196.44L171.7 196.44Z" fill="none" stroke="#ff0000" stroke-width="0.6"/><circle cx="166.5" cy="199.03" r="0.22" fill="#ff0000"/>
<path d="M106.6 352.98H111.6M143.96 340.15V339.37M141.46 340.15H146.46M141.46 339.37H146.46M178.81 324.29V322.87M176.31 324.29H181.31M176.31 322.87H181.31M213.66 307.62V305.49M211.16 307.62H216.16M211.16 305.49H216.16M248.52 290.56V287.65M246.02 290.56H251.02M246.02 287.65H251.02M283.37 273.01V269.27M280.87 273.01H285.87M280.87 269.27H285.87M318.23 256.15V251.57M315.73 256.15H320.73M315.73 251.57H320.73M353.08 239.64V234.2M350.58 239.64H355.58M350.58 234.2H355.58M387.93 222.66V216.28M385.43 222.66H390.43M385.43 216.28H390.43M422.79 207.01V199.74M420.29 207.01H425.29M420.29 199.74H425.29M457.64 190.88V182.66M455.14 190.88H460.14M455.14 182.66H460.14M492.49 175.76V166.61M489.99 175.76H494.99M489.99 166.61H494.99M527.35 161.14V151.07M524.85 161.14H529.85M524.85 151.07H529.85M562.2 146.54V135.51M559.7 146.54H564.7M559.7 135.51H564.7" fill="none" stroke="#ff0000" stroke-width="0.6"/>
<path d="M109.1 358.8L103.9 350.38L114.3 350.38Z" fill="none" stroke="#ff0000" stroke-width="0.6"/><circle cx="109.1" cy="352.98" r="0.22" fill="#ff0000"/>
<path d="M143.96 345.58L138.76 337.16L149.16 337.16Z" fill="none" stroke="#ff0000" stroke-width="0.6"/><circle cx="143.96" cy="339.76" r="0.22" fill="#ff0000"/>
<path d="M178.81 329.4L173.61 320.98L184.01 320.98Z" fill="none" stroke="#ff0000" stroke-width="0.6"/><circle cx="178.81" cy="323.58" r="0.22" fill="#ff0000"/>
<path d="M213.66 312.38L208.46 303.95L218.86 303.95Z" fill="none" stroke="#ff0000" stroke-width="0.6"/><circle cx="213.66" cy="306.55" r="0.22" fill="#ff0000"/>
<path d="M248.52 294.93L243.32 286.5L253.72 286.5Z" fill="none" stroke="#ff0000" stroke-width="0.6"/><circle cx="248.52" cy="289.1" r="0.22" fill="#ff0000"/>
<path d="M283.37 276.97L278.17 268.54L288.57 268.54Z" fill="none" stroke="#ff0000" stroke-width="0.6"/><circle cx="283.37" cy="271.14" r="0.22" fill="#ff0000"/>
<path d="M318.23 259.69L313.03 251.26L323.43 251.26Z" fill="none" stroke="#ff0000" stroke-width="0.6"/><circle cx="318.23" cy="253.86" r="0.22" fill="#ff0000"/>
<path d="M353.08 242.74L347.88 234.32L358.28 234.32Z" fill="none" stroke="#ff0000" stroke-width="0.6"/><circle cx="353.08" cy="236.92" r="0.22" fill="#ff0000"/>
<path d="M387.93 225.29L382.73 216.87L393.13 216.87Z" fill="none" stroke="#ff0000" stroke-width="0.6"/><circle cx="387.93" cy="219.47" r="0.22" fill="#ff0000"/>
<path d="M422.79 209.2L417.59 200.77L427.99 200.77Z" fill="none" stroke="#ff0000" stroke-width="0.6"/><circle cx="422.79" cy="203.37" r="0.22" fill="#ff0000"/>
<path d="M457.64 192.59L452.44 184.17L462.84 184.17Z" fill="none" stroke="#ff0000" stroke-width="0.6"/><circle cx="457.64" cy="186.77" r="0.22" fill="#ff0000"/>
<path d="M492.49 177.01L487.29 168.58L497.69 168.58Z" fill="none" stroke="#ff0000" stroke-width="0.6"/><circle cx="492.49" cy="171.18" r="0.22" fill="#ff0000"/>
<path d="M527.35 161.93L522.15 153.5L532.55 153.5Z" fill="none" stroke="#ff0000" stroke-width="0.6"/><circle cx="527.35" cy="156.1" r="0.22" fill="#ff0000"/>
<path d="M562.2 146.85L557 138.43L567.4 138.43Z" fill="none" stroke="#ff0000" stroke-width="0.6"/><circle cx="562.2" cy="141.03" r="0.22" fill="#ff0000"/>
<path d="M139.3 217.15H193.7M139.3 214.65V219.65M193.7 214.65V219.65" fill="none" stroke="#00ff00" stroke-width="0.6" stroke-dasharray="3.29 1.65"/>
<path d="M166.5 222.97L161.3 214.55L171.7 214.55Z" fill="#00ff00" stroke="none"/>
<path d="M106.6 351.71H111.6M143.96 337.74V336.87M141.46 337.74H146.46M141.46 336.87H146.46M178.81 319.78V318.17M176.31 319.78H181.31M176.31 318.17H181.31M213.66 300.99V298.56M211.16 300.99H216.16M211.16 298.56H216.16M248.52 281.7V278.38M246.02 281.7H251.02M246.02 278.38H251.02M283.37 262.6V258.34M280.87 262.6H285.87M280.87 258.34H285.87M318.23 243.6V238.37M315.73 243.6H320.73M315.73 238.37H320.73M353.08 224.47V218.2M350.58 224.47H355.58M350.58 218.2H355.58M387.93 206.35V199.04M385.43 206.35H390.43M385.43 199.04H390.43M422.79 188.25V179.87M420.29 188.25H425.29M420.29 179.87H425.29M457.64 170.01V160.5M455.14 170.01H460.14M455.14 160.5H460.14M492.49 153.76V143.2M489.99 153.76H494.99M489.99 143.2H494.99M527.35 136.87V125.19M524.85 136.87H529.85M524.85 125.19H529.85M562.2 121.81V109.08M559.7 121.81H564.7M559.7 109.08H564.7" fill="none" stroke="#00ff00" stroke-width="0.6" stroke-dasharray="3.29 1.65"/>
<path d="M109.1 357.53L103.9 349.11L114.3 349.11Z" fill="#00ff00" stroke="none"/>
<path d="M143.96 343.13L138.76 334.7L149.16 334.7Z" fill="#00ff00" stroke="none"/>
<path d="M178.81 324.8L173.61 316.37L184.01 316.37Z" fill="#00ff00" stroke="none"/>
<path d="M213.66 305.6L208.46 297.18L218.86 297.18Z" fill="#00ff00" stroke="none"/>
<path d="M248.52 285.86L243.32 277.44L253.72 277.44Z" fill="#00ff00" stroke="none"/>
<path d="M283.37 266.29L278.17 257.87L288.57 257.87Z" fill="#00ff00" stroke="none"/>
<path d="M318.23 246.81L313.03 238.39L323.43 238.39Z" fill="#00ff00" stroke="none"/>
<path d="M353.08 227.16L347.88 218.73L358.28 218.73Z" fill="#00ff00" stroke="none"/>
<path d="M387.93 208.52L382.73 200.1L393.13 200.1Z" fill="#00ff00" stroke="none"/>
<path d="M422.79 189.88L417.59 181.46L427.99 181.46Z" fill="#00ff00" stroke="none"/>
<path d="M457.64 171.08L452.44 162.65L462.84 162.65Z" fill="#00ff00" stroke="none"/>
<path d="M492.49 154.3L487.29 145.88L497.69 145.88Z" fill="#00ff00" stroke="none"/>
<path d="M527.35 136.85L522.15 128.43L532.55 128.43Z" fill="#00ff00" stroke="none"/>
<path d="M562.2 121.27L557 112.84L567.4 112.84Z" fill="#00ff00" stroke="none"/>
<path d="M139.3 235.26H193.7M139.3 232.76V237.76M193.7 232.76V237.76" fill="none" stroke="#0000ff" stroke-width="0.6" stroke-dasharray="1.65 2.47"/>
<path d="M166.5 230.06L171.7 235.26L166.5 240.46L161.3 235.26Z" fill="none" stroke="#0000ff" stroke-width="0.6"/><circle cx="166.5" cy="235.26" r="0.22" fill="#0000ff"/>
<path d="M106.6 350.5H111.6M143.96 335.33V334.36M141.46 335.33H146.46M141.46 334.36H146.46M178.81 315.25V313.44M176.31 315.25H181.31M176.31 313.44H181.31M213.66 294.86V292.15M211.16 294.86H216.16M211.16 292.15H216.16M248.52 273.51V269.79M246.02 273.51H251.02M246.02 269.79H251.02M283.37 251.69V246.88M280.87 251.69H285.87M280.87 246.88H285.87M318.23 230.57V224.63M315.73 230.57H320.73M315.73 224.63H320.73M353.08 209.64V202.53M350.58 209.64H355.58M350.58 202.53H355.58M387.93 189.56V181.26M385.43 189.56H390.43M385.43 181.26H390.43M422.79 170.01V160.5M420.29 170.01H425.29M420.29 160.5H425.29M457.64 150.97V140.23M455.14 150.97H460.14M455.14 140.23H460.14M492.49 132.12V120.11M489.99 132.12H494.99M489.99 120.11H494.99M527.35 114.12V100.84M524.85 114.12H529.85M524.85 100.84H529.85M562.2 96.78V82.26M559.7 96.78H564.7M559.7 82.26H564.7" fill="none" stroke="#0000ff" stroke-width="0.6" stroke-dasharray="1.65 2.47"/>
<path d="M109.1 345.3L114.3 350.5L109.1 355.7L103.9 350.5Z" fill="none" stroke="#0000ff" stroke-width="0.6"/><circle cx="109.1" cy="350.5" r="0.22" fill="#0000ff"/>
<path d="M143.96 329.65L149.16 334.85L143.96 340.05L138.76 334.85Z" fill="none" stroke="#0000ff" stroke-width="0.6"/><circle cx="143.96" cy="334.85" r="0.22" fill="#0000ff"/>
<path d="M178.81 309.15L184.01 314.35L178.81 319.55L173.61 314.35Z" fill="none" stroke="#0000ff" stroke-width="0.6"/><circle cx="178.81" cy="314.35" r="0.22" fill="#0000ff"/>
<path d="M213.66 288.31L218.86 293.51L213.66 298.71L208.46 293.51Z" fill="none" stroke="#0000ff" stroke-width="0.6"/><circle cx="213.66" cy="293.51" r="0.22" fill="#0000ff"/>
<path d="M248.52 266.45L253.72 271.65L248.52 276.85L243.32 271.65Z" fill="none" stroke="#0000ff" stroke-width="0.6"/><circle cx="248.52" cy="271.65" r="0.22" fill="#0000ff"/>
<path d="M283.37 244.09L288.57 249.29L283.37 254.49L278.17 249.29Z" fill="none" stroke="#0000ff" stroke-width="0.6"/><circle cx="283.37" cy="249.29" r="0.22" fill="#0000ff"/>
<path d="M318.23 222.4L323.43 227.6L318.23 232.8L313.03 227.6Z" fill="none" stroke="#0000ff" stroke-width="0.6"/><circle cx="318.23" cy="227.6" r="0.22" fill="#0000ff"/>
<path d="M353.08 200.88L358.28 206.08L353.08 211.28L347.88 206.08Z" fill="none" stroke="#0000ff" stroke-width="0.6"/><circle cx="353.08" cy="206.08" r="0.22" fill="#0000ff"/>
<path d="M387.93 180.21L393.13 185.41L387.93 190.61L382.73 185.41Z" fill="none" stroke="#0000ff" stroke-width="0.6"/><circle cx="387.93" cy="185.41" r="0.22" fill="#0000ff"/>
<path d="M422.79 160.05L427.99 165.25L422.79 170.45L417.59 165.25Z" fill="none" stroke="#0000ff" stroke-width="0.6"/><circle cx="422.79" cy="165.25" r="0.22" fill="#0000ff"/>
<path d="M457.64 140.4L462.84 145.6L457.64 150.8L452.44 145.6Z" fill="none" stroke="#0000ff" stroke-width="0.6"/><circle cx="457.64" cy="145.6" r="0.22" fill="#0000ff"/>
<path d="M492.49 120.92L497.69 126.12L492.49 131.32L487.29 126.12Z" fill="none" stroke="#0000ff" stroke-width="0.6"/><circle cx="492.49" cy="126.12" r="0.22" fill="#0000ff"/>
<path d="M527.35 102.28L532.55 107.48L527.35 112.68L522.15 107.48Z" fill="none" stroke="#0000ff" stroke-width="0.6"/><circle cx="527.35" cy="107.48" r="0.22" fill="#0000ff"/>
<path d="M562.2 84.32L567.4 89.52L562.2 94.72L557 89.52Z" fill="none" stroke="#0000ff" stroke-width="0.6"/><circle cx="562.2" cy="89.52" r="0.22" fill="#0000ff"/>
<path d="M139.3 253.38H193.7M139.3 250.88V255.88M193.7 250.88V255.88" fill="none" stroke="#ff00ff" stroke-width="0.6" stroke-dasharray="0.82 1.24"/>
<path d="M166.5 248.18L171.7 253.38L166.5 258.58L161.3 253.38Z" fill="#ff00ff" stroke="none"/>
<path d="M106.6 350.1H111.6M143.96 332.68V331.6M141.46 332.68H146.46M141.46 331.6H146.46M178.81 311.27V309.29M176.31 311.27H181.31M176.31 309.29H181.31M213.66 288.73V285.74M211.16 288.73H216.16M211.16 285.74H216.16M248.52 265.24V261.12M246.02 265.24H251.02M246.02 261.12H251.02M283.37 241.46V236.11M280.87 241.46H285.87M280.87 236.11H285.87M318.23 218.04V211.41M315.73 218.04H320.73M315.73 211.41H320.73M353.08 195.49V187.54M350.58 195.49H355.58M350.58 187.54H355.58M387.93 173.29V163.99M385.43 173.29H390.43M385.43 163.99H390.43M422.79 151.95V141.28M420.29 151.95H425.29M420.29 141.28H425.29M457.64 130.97V118.88M455.14 130.97H460.14M455.14 118.88H460.14M492.49 110.52V96.99M489.99 110.52H494.99M489.99 96.99H494.99M527.35 91.39V76.46M524.85 91.39H529.85M524.85 76.46H529.85M562.2 72.95V56.62M559.7 72.95H564.7M559.7 56.62H564.7" fill="none" stroke="#ff00ff" stroke-width="0.6" stroke-dasharray="0.82 1.24"/>
<path d="M109.1 344.9L114.3 350.1L109.1 355.3L103.9 350.1Z" fill="#ff00ff" stroke="none"/>
<path d="M143.96 326.94L149.16 332.14L143.96 337.34L138.76 332.14Z" fill="#ff00ff" stroke="none"/>
<path d="M178.81 305.08L184.01 310.28L178.81 315.48L173.61 310.28Z" fill="#ff00ff" stroke="none"/>
<path d="M213.66 282.04L218.86 287.24L213.66 292.44L208.46 287.24Z" fill="#ff00ff" stroke="none"/>
<path d="M248.52 257.98L253.72 263.18L248.52 268.38L243.32 263.18Z" fill="#ff00ff" stroke="none"/>
<path d="M283.37 233.58L288.57 238.78L283.37 243.98L278.17 238.78Z" fill="#ff00ff" stroke="none"/>
<path d="M318.23 209.53L323.43 214.73L318.23 219.93L313.03 214.73Z" fill="#ff00ff" stroke="none"/>
<path d="M353.08 186.31L358.28 191.51L353.08 196.71L347.88 191.51Z" fill="#ff00ff" stroke="none"/>
<path d="M387.93 163.44L393.13 168.64L387.93 173.84L382.73 168.64Z" fill="#ff00ff" stroke="none"/>
<path d="M422.79 141.42L427.99 146.62L422.79 151.82L417.59 146.62Z" fill="#ff00ff" stroke="none"/>
<path d="M457.64 119.73L462.84 124.93L457.64 130.13L452.44 124.93Z" fill="#ff00ff" stroke="none"/>
<path d="M492.49 98.55L497.69 103.75L492.49 108.95L487.29 103.75Z" fill="#ff00ff" stroke="none"/>
<path d="M527.35 78.73L532.55 83.93L527.35 89.13L522.15 83.93Z" fill="#ff00ff" stroke="none"/>
<path d="M562.2 59.58L567.4 64.78L562.2 69.98L557 64.78Z" fill="#ff00ff" stroke="none"/>
<path d="M139.3 271.5H193.7M139.3 269V274M193.7 269V274" fill="none" stroke="#00ffff" stroke-width="0.6" stroke-dasharray="4.12 1.65 0.82 1.65"/>
<path d="M166.5 266.3L171.45 269.89L169.56 275.7L163.44 275.7L161.55 269.89Z" fill="none" stroke="#00ffff" stroke-width="0.6"/><circle cx="166.5" cy="271.5" r="0.22" fill="#00ffff"/>
<path d="M106.6 349.5H111.6M143.96 330.18V329.01M141.46 330.18H146.46M141.46 329.01H146.46M178.81 306.46V304.27M176.31 306.46H181.31M176.31 304.27H181.31M213.66 282.18V278.88M211.16 282.18H216.16M211.16 278.88H216.16M248.52 256.98V252.44M246.02 256.98H251.02M246.02 252.44H251.02M283.37 231.56V225.68M280.87 231.56H285.87M280.87 225.68H285.87M318.23 206.68V199.39M315.73 206.68H320.73M315.73 199.39H320.73M353.08 182V173.24M350.58 182H355.58M350.58 173.24H355.58M387.93 158.35V148.09M385.43 158.35H390.43M385.43 148.09H390.43M422.79 134.25V122.39M420.29 134.25H425.29M420.29 122.39H425.29M457.64 111.66V98.21M455.14 111.66H460.14M455.14 98.21H460.14M492.49 89.76V74.71M489.99 89.76H494.99M489.99 74.71H494.99M527.35 69.52V52.93M524.85 69.52H529.85M524.85 52.93H529.85M562.2 49.97V31.82M559.7 49.97H564.7M559.7 31.82H564.7" fill="none" stroke="#00ffff" stroke-width="0.6" stroke-dasharray="4.12 1.65 0.82 1.65"/>
<path d="M109.1 344.3L114.05 347.9L112.16 353.71L106.05 353.71L104.16 347.9Z" fill="none" stroke="#00ffff" stroke-width="0.6"/><circle cx="109.1" cy="349.5" r="0.22" fill="#00ffff"/>
<path d="M143.96 324.4L148.9 327.99L147.01 333.8L140.9 333.8L139.01 327.99Z" fill="none" stroke="#00ffff" stroke-width="0.6"/><circle cx="143.96" cy="329.6" r="0.22" fill="#00ffff"/>
<path d="M178.81 300.17L183.76 303.76L181.87 309.57L175.75 309.57L173.87 303.76Z" fill="none" stroke="#00ffff" stroke-width="0.6"/><circle cx="178.81" cy="305.37" r="0.22" fill="#00ffff"/>
<path d="M213.66 275.33L218.61 278.92L216.72 284.74L210.61 284.74L208.72 278.92Z" fill="none" stroke="#00ffff" stroke-width="0.6"/><circle cx="213.66" cy="280.53" r="0.22" fill="#00ffff"/>
<path d="M248.52 249.51L253.46 253.1L251.57 258.92L245.46 258.92L243.57 253.1Z" fill="none" stroke="#00ffff" stroke-width="0.6"/><circle cx="248.52" cy="254.71" r="0.22" fill="#00ffff"/>
<path d="M283.37 223.42L288.32 227.01L286.43 232.82L280.31 232.82L278.43 227.01Z" fill="none" stroke="#00ffff" stroke-width="0.6"/><circle cx="283.37" cy="228.62" r="0.22" fill="#00ffff"/>
<path d="M318.23 197.83L323.17 201.43L321.28 207.24L315.17 207.24L313.28 201.43Z" fill="none" stroke="#00ffff" stroke-width="0.6"/><circle cx="318.23" cy="203.03" r="0.22" fill="#00ffff"/>
<path d="M353.08 172.42L358.02 176.01L356.14 181.83L350.02 181.83L348.13 176.01Z" fill="none" stroke="#00ffff" stroke-width="0.6"/><circle cx="353.08" cy="177.62" r="0.22" fill="#00ffff"/>
<path d="M387.93 148.02L392.88 151.62L390.99 157.43L384.88 157.43L382.99 151.62Z" fill="none" stroke="#00ffff" stroke-width="0.6"/><circle cx="387.93" cy="153.22" r="0.22" fill="#00ffff"/>
<path d="M422.79 123.12L427.73 126.71L425.84 132.53L419.73 132.53L417.84 126.71Z" fill="none" stroke="#00ffff" stroke-width="0.6"/><circle cx="422.79" cy="128.32" r="0.22" fill="#00ffff"/>
<path d="M457.64 99.74L462.58 103.33L460.7 109.14L454.58 109.14L452.69 103.33Z" fill="none" stroke="#00ffff" stroke-width="0.6"/><circle cx="457.64" cy="104.94" r="0.22" fill="#00ffff"/>
<path d="M492.49 77.03L497.44 80.63L495.55 86.44L489.44 86.44L487.55 80.63Z" fill="none" stroke="#00ffff" stroke-width="0.6"/><circle cx="492.49" cy="82.23" r="0.22" fill="#00ffff"/>
<path d="M527.35 56.03L532.29 59.62L530.4 65.43L524.29 65.43L522.4 59.62Z" fill="none" stroke="#00ffff" stroke-width="0.6"/><circle cx="527.35" cy="61.23" r="0.22" fill="#00ffff"/>
<path d="M562.2 35.7L567.15 39.29L565.26 45.1L559.14 45.1L557.25 39.29Z" fill="none" stroke="#00ffff" stroke-width="0.6"/><circle cx="562.2" cy="40.9" r="0.22" fill="#00ffff"/>
<rect x="74.25" y="21.75" width="487.95" height="338.85" fill="none" stroke="#000" stroke-width="0.9"/>
</svg>
</body></html>
